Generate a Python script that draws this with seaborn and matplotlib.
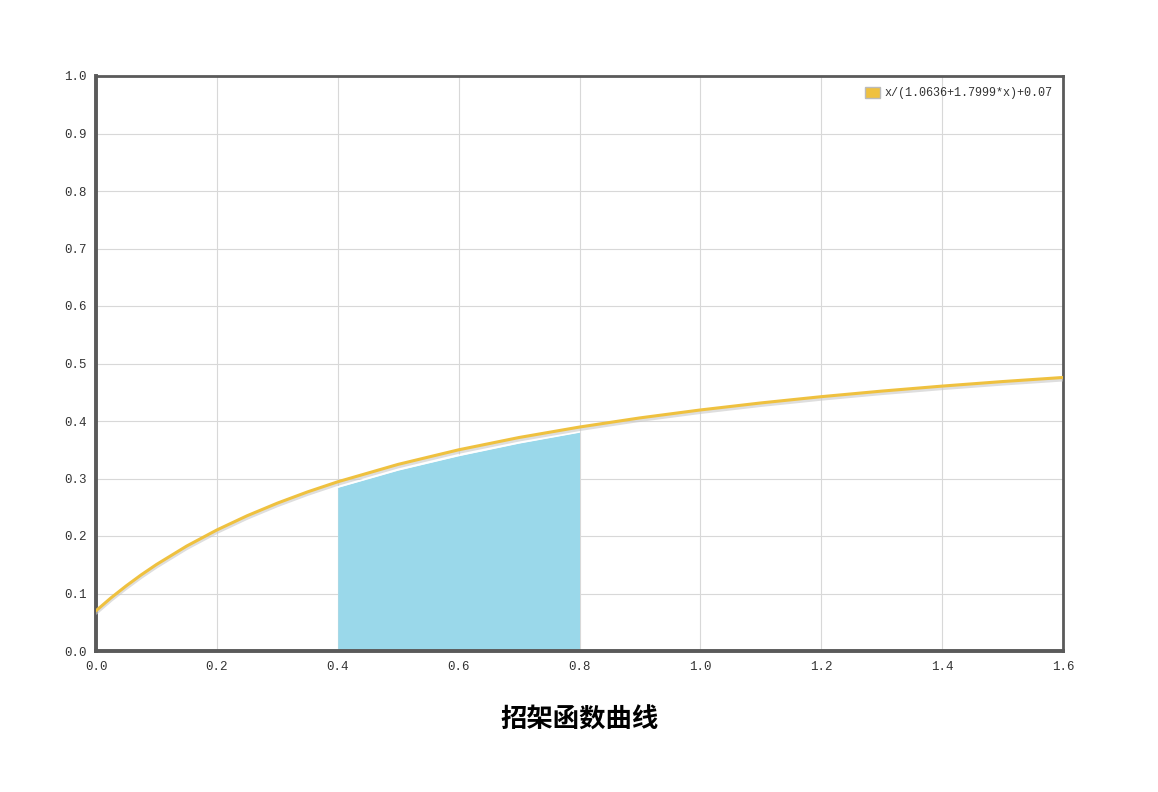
import numpy as np
import pandas as pd
import matplotlib
matplotlib.use('Agg')
import matplotlib.pyplot as plt
import seaborn as sns
from matplotlib.patches import Patch

# ===== DATA =====
curve_x = [0.0, 0.025, 0.05, 0.075, 0.1, 0.15, 0.2, 0.25, 0.3, 0.35, 0.4,
           0.5, 0.6, 0.7, 0.8, 0.9, 1.0, 1.1, 1.2, 1.3, 1.4, 1.5, 1.6]
curve_y = [0.0700, 0.0926, 0.1133, 0.1326, 0.1504, 0.1825, 0.2105, 0.2352,
           0.2571, 0.2767, 0.2943, 0.3246, 0.3499, 0.3713, 0.3895, 0.4054,
           0.4192, 0.4314, 0.4423, 0.4520, 0.4607, 0.4686, 0.4757]

area_x = [0.4, 0.5, 0.6, 0.7, 0.8]
area_y = [0.285, 0.315, 0.340, 0.362, 0.381]

series_label = 'x/(1.0636+1.7999*x)+0.07'
title_text = '招架函数曲线'
x_ticks = [0.0, 0.2, 0.4, 0.6, 0.8, 1.0, 1.2, 1.4, 1.6]
y_ticks = [0.0, 0.1, 0.2, 0.3, 0.4, 0.5, 0.6, 0.7, 0.8, 0.9, 1.0]

# ===== STYLE =====
LINE_COLOR = '#efc13f'
FILL_COLOR = '#9ad8ea'
GRID_COLOR = '#d8d8d8'
FRAME_COLOR = '#5a5a5a'

sns.set_style('white')
plt.rcParams['font.family'] = ['Noto Sans CJK SC', 'DejaVu Sans']

df_curve = pd.DataFrame({'x': curve_x, 'y': curve_y})

fig = plt.figure(figsize=(11.58, 7.92), dpi=100)
ax = fig.add_axes([96 / 1158, 1 - 651 / 792, (1063 - 96) / 1158, (651 - 76) / 792])

# shaded interval
ax.fill_between(area_x, 0, area_y, color=FILL_COLOR, lw=0, zorder=2)
ax.plot(area_x, area_y, color='white', lw=1.2, zorder=2.5)

# shadow under the curve
ax.plot(np.array(curve_x), np.array(curve_y) - 0.004, color='#c8c8c8', lw=2.5,
        alpha=0.6, zorder=3)
sns.lineplot(data=df_curve, x='x', y='y', ax=ax, color=LINE_COLOR, lw=2.2,
             zorder=4, legend=False)

ax.set_xlim(0, 1.6)
ax.set_ylim(0, 1.0)
ax.set_xticks(x_ticks)
ax.set_yticks(y_ticks)
ax.set_xticklabels([f'{t:.1f}' for t in x_ticks])
ax.set_yticklabels([f'{t:.1f}' for t in y_ticks])
ax.set_xlabel('')
ax.set_ylabel('')
ax.grid(True, color=GRID_COLOR, lw=0.8, zorder=1)
ax.set_axisbelow(True)

for lbl in ax.get_xticklabels() + ax.get_yticklabels():
    lbl.set_fontfamily('Liberation Mono')
    lbl.set_fontsize(9)
    lbl.set_color('#333333')
ax.tick_params(axis='both', length=0, pad=7)

for side in ['left', 'bottom']:
    ax.spines[side].set_color(FRAME_COLOR)
    ax.spines[side].set_linewidth(2.8)
for side in ['top', 'right']:
    ax.spines[side].set_color(FRAME_COLOR)
    ax.spines[side].set_linewidth(2.0)

legend_elements = [Patch(facecolor=LINE_COLOR, edgecolor='#bbbbbb', label=series_label)]
leg = ax.legend(handles=legend_elements, loc='upper right', frameon=False,
                handlelength=1.2, handleheight=1.1, handletextpad=0.4,
                borderaxespad=0.5, prop={'family': 'Liberation Mono', 'size': 8.5})
for t in leg.get_texts():
    t.set_color('#333333')

fig.text(580 / 1158, 1 - 720 / 792, title_text, ha='center', va='center',
         fontsize=19, fontweight='bold', color='black')

fig.savefig('out.png', dpi=100)
